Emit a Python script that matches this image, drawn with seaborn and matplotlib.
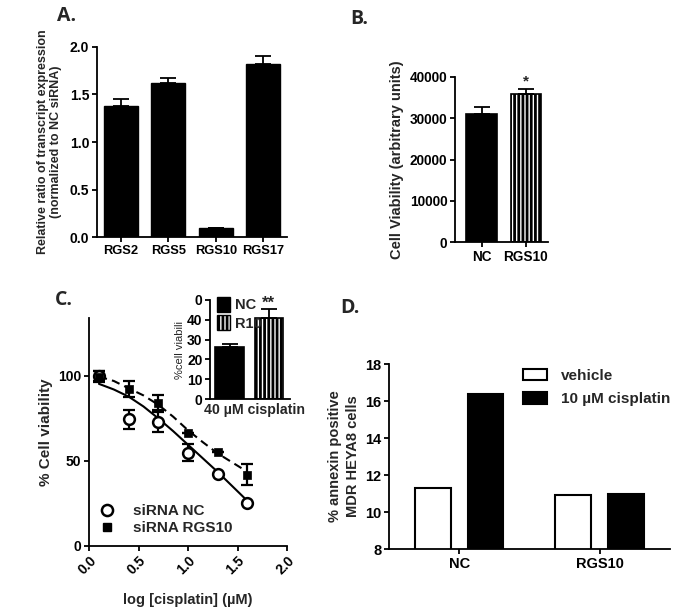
import numpy as np
import pandas as pd
import matplotlib
matplotlib.use("Agg")
import matplotlib.pyplot as plt
import seaborn as sns
from matplotlib.patches import Patch
from matplotlib.lines import Line2D

# panel A: transcript expression
genes = ["RGS2", "RGS5", "RGS10", "RGS17"]
ratio = [1.38, 1.62, 0.10, 1.82]
ratio_err = [0.07, 0.05, 0.0, 0.08]

# panel B: cell viability
groups_b = ["NC", "RGS10"]
viab_b = [31000, 35800]
viab_b_err = [1700, 1200]

# panel C: dose response
log_cis = [0.1, 0.4, 0.7, 1.0, 1.3, 1.6]
nc_viab = [100, 74.5, 73, 54.8, 42.2, 25]
nc_err = [3, 5.5, 6, 5, 0, 0]
rgs_viab = [99.6, 92.3, 84.3, 66.6, 55.2, 42]
rgs_err = [3, 4.5, 4.5, 0, 0, 6]
# fitted curves
fit_x = [0.1, 0.25, 0.4, 0.55, 0.7, 0.85, 1.0, 1.15, 1.3, 1.45, 1.6]
fit_nc = [95.3, 92, 87.8, 82, 75, 67.5, 59.5, 51.5, 43.5, 35, 26.5]
fit_rgs = [99.6, 97, 92.7, 88.5, 83, 76, 68, 61, 54.4, 49, 43.6]

# panel C inset
inset_groups = ["NC", "R10"]
inset_viab = [26.5, 41]
inset_err = [1.5, 4.5]
inset_ticklabels = ["0", "10", "20", "30", "40", "0"]

# panel D: annexin
d_groups = ["NC", "NC", "RGS10", "RGS10"]
d_treat = ["vehicle", "10 µM cisplatin", "vehicle", "10 µM cisplatin"]
annexin = [11.3, 16.4, 10.9, 11.0]

sns.set_style("ticks")
plt.rcParams['font.family'] = ['Liberation Sans', 'DejaVu Sans']
plt.rcParams['font.weight'] = 'bold'
plt.rcParams['axes.labelweight'] = 'bold'
plt.rcParams['axes.linewidth'] = 1.3
plt.rcParams['xtick.major.width'] = 1.3
plt.rcParams['ytick.major.width'] = 1.3
plt.rcParams['xtick.major.size'] = 3.5
plt.rcParams['ytick.major.size'] = 3.5
plt.rcParams['hatch.linewidth'] = 2.0
plt.rcParams['xtick.color'] = 'black'
plt.rcParams['ytick.color'] = 'black'
plt.rcParams['axes.edgecolor'] = 'black'

fig = plt.figure(figsize=(6.85, 6.15), dpi=100)

def style(ax, fs=9.5, xfs=None):
    sns.despine(ax=ax)
    ax.tick_params(labelsize=fs, pad=2)
    if xfs:
        ax.tick_params(axis='x', labelsize=xfs)
    for lab in ax.get_xticklabels() + ax.get_yticklabels():
        lab.set_fontweight('bold')

# ---- A ----
axA = fig.add_axes([0.1416, 0.6146, 0.2774, 0.309])
sns.barplot(x=genes, y=ratio, color='black', edgecolor='black', width=0.72,
            errorbar=None, ax=axA, saturation=1)
axA.errorbar(range(4), ratio, yerr=[np.zeros(4), ratio_err], fmt='none',
             ecolor='black', elinewidth=1.3, capsize=6, capthick=1.3)
axA.set_xlim(-0.5, 3.5)
axA.set_ylim(0, 2.0)
axA.set_yticks([0, 0.5, 1.0, 1.5, 2.0])
axA.set_yticklabels(["0.0", "0.5", "1.0", "1.5", "2.0"])
axA.set_ylabel("Relative ratio of transcript expression\n(normalized to NC siRNA)",
               fontsize=9, labelpad=6, linespacing=1.1)
style(axA, 10, 9.3)

# ---- B ----
axB = fig.add_axes([0.6642, 0.6065, 0.1358, 0.2683])
sns.barplot(x=groups_b, y=viab_b, color='black', edgecolor='black', width=0.68,
            errorbar=None, ax=axB, saturation=1, linewidth=1.2)
axB.patches[1].set_facecolor('white')
axB.patches[1].set_hatch('||||')
axB.errorbar(range(2), viab_b, yerr=[np.zeros(2), viab_b_err], fmt='none',
             ecolor='black', elinewidth=1.3, capsize=6, capthick=1.3)
axB.text(1, viab_b[1] + viab_b_err[1] + 200, "*", ha='center', va='bottom', fontsize=11)
axB.set_xlim(-0.6, 1.5)
axB.set_ylim(0, 40000)
axB.set_yticks([0, 10000, 20000, 30000, 40000])
axB.set_ylabel("Cell Viability (arbitrary units)", fontsize=10.5, labelpad=4)
style(axB, 9.8)

# ---- C ----
axC = fig.add_axes([0.13, 0.1122, 0.289, 0.3707])
sns.lineplot(x=fit_x, y=fit_nc, color='black', linewidth=1.5, ax=axC)
sns.lineplot(x=fit_x, y=fit_rgs, color='black', linewidth=1.5, ax=axC)
axC.lines[1].set_linestyle((0, (4, 2.5)))
axC.errorbar(log_cis, nc_viab, yerr=nc_err, fmt='none', ecolor='black',
             elinewidth=1.6, capsize=4, capthick=1.6, zorder=3)
axC.errorbar(log_cis, rgs_viab, yerr=rgs_err, fmt='none', ecolor='black',
             elinewidth=1.6, capsize=4, capthick=1.6, zorder=3)
sns.scatterplot(x=log_cis, y=nc_viab, marker='o', s=60, facecolor='white',
                edgecolor='black', linewidth=1.8, ax=axC, zorder=4)
sns.scatterplot(x=log_cis, y=rgs_viab, marker='s', s=38, color='black',
                edgecolor='black', ax=axC, zorder=5)
axC.set_xlim(0, 2.0)
axC.set_ylim(0, 134)
axC.set_yticks([0, 50, 100])
axC.set_xticks([0, 0.5, 1.0, 1.5, 2.0])
axC.set_xticklabels(["0.0", "0.5", "1.0", "1.5", "2.0"], rotation=45,
                    ha='right', rotation_mode='anchor')
axC.set_xlabel("log [cisplatin] (µM)", fontsize=10.5, labelpad=11)
axC.set_ylabel("% Cell viability", fontsize=11, labelpad=4)
handles = [Line2D([], [], marker='o', linestyle='none', markerfacecolor='white',
                  markeredgecolor='black', markeredgewidth=1.8, markersize=8),
           Line2D([], [], marker='s', linestyle='none', color='black', markersize=6)]
axC.legend(handles, ["siRNA NC", "siRNA RGS10"], frameon=False, loc='lower left',
           bbox_to_anchor=(-0.04, 0.0), prop={'size': 11, 'weight': 'bold'},
           handletextpad=0.7, labelspacing=0.2, borderpad=0.2)
style(axC, 10)

# ---- C inset ----
axI = fig.add_axes([0.3066, 0.3512, 0.117, 0.161])
sns.barplot(x=inset_groups, y=inset_viab, color='black', edgecolor='black',
            width=0.72, errorbar=None, ax=axI, saturation=1, linewidth=1.2)
axI.patches[1].set_facecolor('white')
axI.patches[1].set_hatch('||||')
axI.errorbar(range(2), inset_viab, yerr=[np.zeros(2), inset_err], fmt='none',
             ecolor='black', elinewidth=1.3, capsize=6, capthick=1.3)
axI.text(1, inset_viab[1] + inset_err[1] - 1, "**", ha='center', va='bottom', fontsize=12)
axI.set_xlim(-0.5, 1.55)
axI.set_ylim(0, 50)
axI.set_yticks([0, 10, 20, 30, 40, 50])
axI.set_yticklabels(inset_ticklabels)
axI.set_xticks([])
axI.set_xlabel("40 µM cisplatin", fontsize=10.2)
axI.xaxis.set_label_coords(0.55, -0.045, transform=axI.transAxes)
axI.xaxis.label.set_va('top')
axI.set_ylabel("%cell viabili", fontsize=8, fontweight='normal', labelpad=1)
ih = [Patch(facecolor='black', edgecolor='black'),
      Patch(facecolor='white', edgecolor='black', hatch='||||')]
axI.legend(ih, inset_groups, frameon=False, loc='upper left',
           bbox_to_anchor=(-0.02, 1.12), prop={'size': 10.5, 'weight': 'bold'},
           handlelength=0.9, handleheight=1.2, handletextpad=0.3, labelspacing=0.2,
           borderpad=0.1)
style(axI, 10)

# ---- D ----
axD = fig.add_axes([0.5679, 0.1073, 0.410, 0.3008])
dfD = pd.DataFrame({"group": d_groups, "treat": d_treat, "annexin": annexin})
sns.barplot(data=dfD, x="group", y="annexin", hue="treat",
            palette=['white', 'black'], edgecolor='black', linewidth=1.5,
            width=0.75, gap=0.32, errorbar=None, ax=axD, saturation=1)
axD.set_xlim(-0.5, 1.5)
axD.set_ylim(8, 18)
axD.set_yticks([8, 10, 12, 14, 16, 18])
axD.set_xlabel("")
axD.set_ylabel("% annexin positive\nMDR HEYA8 cells", fontsize=10.5, labelpad=4,
               linespacing=1.3)
dh = [Patch(facecolor='white', edgecolor='black', linewidth=1.5),
      Patch(facecolor='black', edgecolor='black', linewidth=1.5)]
axD.legend(dh, ["vehicle", "10 µM cisplatin"], frameon=False, loc='upper right',
           bbox_to_anchor=(1.05, 1.05), prop={'size': 11, 'weight': 'bold'},
           handlelength=1.6, handleheight=0.8, handletextpad=0.9, labelspacing=0.6)
style(axD, 10.5)

# panel letters
for x, y, t in [(0.083, 0.99, "A."), (0.512, 0.985, "B."),
                (0.08, 0.528, "C."), (0.497, 0.515, "D.")]:
    fig.text(x, y, t, fontsize=14, fontweight='bold', family=['Open Sans', 'DejaVu Sans'],
             va='top')

fig.savefig("out.png", dpi=100)
